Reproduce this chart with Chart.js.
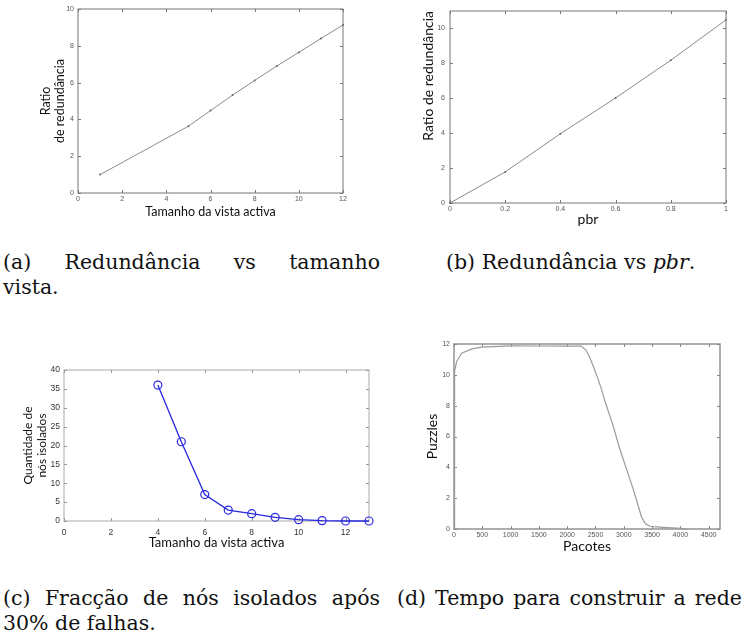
<!DOCTYPE html>
<html>
<head>
<meta charset="utf-8">
<script src="https://cdn.jsdelivr.net/npm/chart.js@4"></script>
<style>
  body { margin: 0; background: #fff; width: 744px; height: 639px; overflow: hidden; position: relative; }
  .panel { position: absolute; }
  .cap { position: absolute; font-family: "DejaVu Serif", "Liberation Serif", serif; font-size: 20.5px; line-height: 25px; color: #111; white-space: nowrap; }
  .cap .full { text-align: justify; text-align-last: justify; white-space: normal; }
</style>
</head>
<body>
<div class="panel" style="left:0px;top:0px"><canvas id="chartA" width="353" height="223"></canvas></div>
<div class="panel" style="left:400px;top:0px"><canvas id="chartB" width="336" height="229"></canvas></div>
<div class="panel" style="left:0px;top:350px"><canvas id="chartC" width="379" height="202"></canvas></div>
<div class="panel" style="left:400px;top:330px"><canvas id="chartD" width="330" height="226"></canvas></div>

<div class="cap" style="left:3px;top:250px;width:377px">
  <div class="full">(a) Redundância vs tamanho</div>
  <div>vista.</div>
</div>
<div class="cap" style="left:446px;top:250px">(b) Redundância vs <i>pbr</i>.</div>
<div class="cap" style="left:3px;top:586px;width:377px">
  <div class="full">(c) Fracção de nós isolados após</div>
  <div>30% de falhas.</div>
</div>
<div class="cap" style="left:397px;top:586px;width:345px">
  <div class="full">(d) Tempo para construir a rede</div>
</div>

<script>
// (a) redundancy vs active view size
const viewSizes = [1, 5, 6, 7, 8, 9, 10, 11, 12]
const viewRedundancy = [1.0, 3.63, 4.48, 5.32, 6.12, 6.9, 7.64, 8.4, 9.13]
const aTicksX = [0, 2, 4, 6, 8, 10, 12]
const aTicksY = [0, 2, 4, 6, 8, 10]

// (b) redundancy vs pbr
const pbrValues = [0, 0.2, 0.4, 0.6, 0.8, 1]
const pbrRedundancy = [0, 1.78, 3.97, 6.02, 8.18, 10.49]
const bTicksX = [0, 0.2, 0.4, 0.6, 0.8, 1]
const bTicksY = [0, 2, 4, 6, 8, 10]

// (c) isolated nodes after 30% failures
const isoViewSizes = [4, 5, 6, 7, 8, 9, 10, 11, 12, 13]
const isoNodes = [36, 21, 7, 2.9, 1.94, 0.97, 0.35, 0.1, 0, 0]
const cTicksX = [0, 2, 4, 6, 8, 10, 12]
const cTicksY = [0, 5, 10, 15, 20, 25, 30, 35, 40]

// (d) puzzles vs packets
const packets = [0, 5, 15, 46, 136, 314, 492, 1000, 1500, 2000, 2244, 2333, 2393, 2452, 2541, 2600, 2689, 2808, 2927, 3046, 3164, 3224, 3313, 3380, 3461, 3521, 3700, 4000, 4115]
const puzzles = [0, 7.2, 10.2, 10.85, 11.4, 11.68, 11.8, 11.88, 11.87, 11.86, 11.87, 11.61, 11.17, 10.64, 9.77, 9.12, 8.04, 6.74, 5.22, 3.92, 2.62, 1.88, 0.78, 0.35, 0.18, 0.15, 0.1, 0.04, 0]
const dTicksX = [0, 500, 1000, 1500, 2000, 2500, 3000, 3500, 4000, 4500]
const dTicksY = [0, 2, 4, 6, 8, 10, 12]

const axisFont = "Lato, 'Open Sans', sans-serif"
const tickFont = "'Liberation Sans', Arial, sans-serif"

// frame round the plot with short ticks pointing inwards on all sides
const frameTicks = {
  id: 'frameTicks',
  beforeDatasetsDraw(chart, args, opts) {
    const {ctx, chartArea: a, scales: {x, y}} = chart
    ctx.save()
    ctx.strokeStyle = opts.color
    ctx.lineWidth = opts.width
    ctx.strokeRect(a.left, a.top, a.right - a.left, a.bottom - a.top)
    ctx.beginPath()
    ctx.lineWidth = 1
    ctx.strokeStyle = opts.tickColor
    const len = opts.tickLen
    for (const t of x.ticks) {
      const px = Math.round(x.getPixelForValue(t.value)) + 0.5
      ctx.moveTo(px, a.bottom); ctx.lineTo(px, a.bottom - len)
      ctx.moveTo(px, a.top); ctx.lineTo(px, a.top + len)
    }
    for (const t of y.ticks) {
      const py = Math.round(y.getPixelForValue(t.value)) + 0.5
      ctx.moveTo(a.left, py); ctx.lineTo(a.left + len, py)
      ctx.moveTo(a.right, py); ctx.lineTo(a.right - len, py)
    }
    ctx.stroke()
    ctx.restore()
  }
}

function toPoints(xs, ys) {
  return xs.map((v, i) => ({x: v, y: ys[i]}))
}

function makeChart(id, p) {
  new Chart(document.getElementById(id), {
    type: 'line',
    data: {
      datasets: [{
        data: toPoints(p.xs, p.ys),
        borderColor: p.color,
        borderWidth: p.lineWidth,
        pointRadius: p.pointRadius,
        pointBorderColor: p.color,
        pointBackgroundColor: p.pointFill,
        pointBorderWidth: p.pointBorder,
        tension: 0,
        fill: false,
        clip: false
      }]
    },
    options: {
      responsive: false,
      animation: false,
      devicePixelRatio: 1,
      layout: {padding: p.padding},
      plugins: {
        legend: {display: false},
        tooltip: {enabled: false},
        frameTicks: p.frame
      },
      scales: {
        x: {
          type: 'linear',
          min: p.xMin, max: p.xMax,
          afterBuildTicks: s => { s.ticks = p.xTicks.map(v => ({value: v})) },
          afterFit: s => { s.height = p.xHeight },
          grid: {display: false, drawTicks: false},
          border: {display: false},
          ticks: {
            autoSkip: false, maxRotation: 0,
            padding: p.xTickPad,
            color: p.tickColor,
            font: {family: tickFont, size: p.tickSize},
            callback: v => String(v)
          },
          title: {
            display: true, text: p.xTitle, color: '#111',
            font: {family: axisFont, size: p.titleSize, lineHeight: p.titleLH},
            padding: {top: 0, bottom: p.xTitlePad}
          }
        },
        y: {
          type: 'linear',
          min: p.yMin, max: p.yMax,
          afterBuildTicks: s => { s.ticks = p.yTicks.map(v => ({value: v})) },
          afterFit: s => { s.width = p.yWidth },
          grid: {display: false, drawTicks: false},
          border: {display: false},
          ticks: {
            autoSkip: false,
            padding: p.yTickPad,
            color: p.tickColor,
            font: {family: tickFont, size: p.tickSize},
            callback: v => String(v)
          },
          title: {
            display: true, text: p.yTitle, color: '#111',
            align: p.yTitleAlign || 'center',
            font: {family: axisFont, size: p.yTitleSize || p.titleSize, lineHeight: p.yTitleLH || p.titleLH},
            padding: {top: p.yTitlePad, bottom: 0}
          }
        }
      }
    },
    plugins: [frameTicks]
  })
}

makeChart('chartA', {
  xs: viewSizes, ys: viewRedundancy,
  color: '#8a8a8a', lineWidth: 1, pointRadius: 1, pointFill: '#666', pointBorder: 0,
  padding: {top: 9, right: 10, left: 0, bottom: 0},
  xMin: 0, xMax: 12, yMin: 0, yMax: 10, xTicks: aTicksX, yTicks: aTicksY,
  xHeight: 30, yWidth: 78, xTickPad: 2, yTickPad: 4,
  tickColor: '#555', tickSize: 7,
  xTitle: 'Tamanho da vista activa', yTitle: ['Ratio', 'de redundância'],
  titleSize: 12.5, titleLH: 1.12, xTitlePad: 4, yTitlePad: 39,
  frame: {color: '#777', width: 1, tickColor: '#777', tickLen: 3}
})

makeChart('chartB', {
  xs: pbrValues, ys: pbrRedundancy,
  color: '#8a8a8a', lineWidth: 1, pointRadius: 1, pointFill: '#666', pointBorder: 0,
  padding: {top: 11, right: 10, left: 0, bottom: 0},
  xMin: 0, xMax: 1, yMin: 0, yMax: 11, xTicks: bTicksX, yTicks: bTicksY,
  xHeight: 26, yWidth: 50, xTickPad: 1.5, yTickPad: 5,
  tickColor: '#555', tickSize: 7,
  xTitle: 'pbr', yTitle: 'Ratio de redundância', yTitleAlign: 'end',
  titleSize: 14, titleLH: 1.15, xTitlePad: 1, yTitlePad: 20,
  frame: {color: '#777', width: 1, tickColor: '#777', tickLen: 3}
})

makeChart('chartC', {
  xs: isoViewSizes, ys: isoNodes,
  color: '#2828e0', lineWidth: 1.3, pointRadius: 4, pointFill: 'rgba(0,0,0,0)', pointBorder: 1.2,
  padding: {top: 20, right: 10, left: 0, bottom: 0},
  xMin: 0, xMax: 13, yMin: 0, yMax: 40, xTicks: cTicksX, yTicks: cTicksY,
  xHeight: 31, yWidth: 64, xTickPad: 7, yTickPad: 4,
  tickColor: '#333', tickSize: 8.5,
  xTitle: 'Tamanho da vista activa', yTitle: ['Quantidade de', 'nós isolados'],
  titleSize: 13, titleLH: 1.15, yTitleSize: 12, yTitleLH: 1.17, xTitlePad: 1.5, yTitlePad: 21,
  frame: {color: '#aaa', width: 1, tickColor: '#999', tickLen: 3}
})

makeChart('chartD', {
  xs: packets, ys: puzzles,
  color: '#9a9a9a', lineWidth: 1.2, pointRadius: 0, pointFill: '#999', pointBorder: 0,
  padding: {top: 14, right: 10, left: 0, bottom: 0},
  xMin: 0, xMax: 4700, yMin: 0, yMax: 12, xTicks: dTicksX, yTicks: dTicksY,
  xHeight: 27, yWidth: 54, xTickPad: 1.5, yTickPad: 4,
  tickColor: '#555', tickSize: 7,
  xTitle: 'Pacotes', yTitle: 'Puzzles',
  titleSize: 14, titleLH: 1.15, xTitlePad: 1, yTitlePad: 24,
  frame: {color: '#999', width: 1.6, tickColor: '#888', tickLen: 3}
})
</script>
</body>
</html>
